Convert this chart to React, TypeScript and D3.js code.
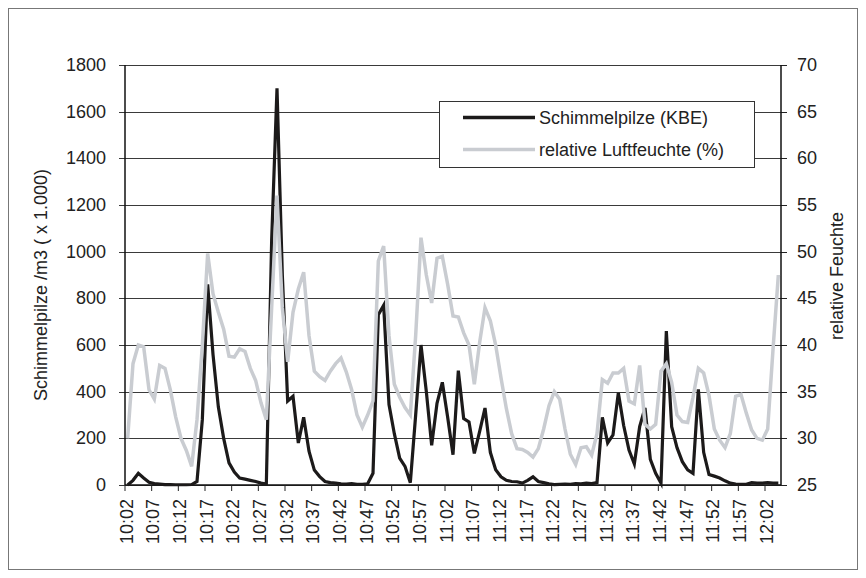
import React from 'react'
import * as d3 from 'd3'

// minutes from 10:02 to 12:04, one sample per minute
const times: string[] = d3.range(123).map((i) => {
  const t = 10 * 60 + 2 + i
  return `${Math.floor(t / 60)}:${String(t % 60).padStart(2, '0')}`
})

const tickLabels = [
  '10:02', '10:07', '10:12', '10:17', '10:22', '10:27', '10:32', '10:37', '10:42',
  '10:47', '10:52', '10:57', '11:02', '11:07', '11:12', '11:17', '11:22', '11:27',
  '11:32', '11:37', '11:42', '11:47', '11:52', '11:57', '12:02',
]

const leftTicks = [0, 200, 400, 600, 800, 1000, 1200, 1400, 1600, 1800]
const rightTicks = [25, 30, 35, 40, 45, 50, 55, 60, 65, 70]

// Schimmelpilze (KBE) /m3 (x 1.000)
const schimmel = [
  0, 20, 50, 30, 12, 6, 4, 2, 2, 1, 1, 1, 2, 15, 280, 860, 560, 335, 200, 95,
  55, 30, 25, 20, 15, 8, 4, 1050, 1700, 900, 360, 380, 180, 290, 145, 64, 36, 15, 10, 8,
  5, 4, 6, 3, 3, 5, 50, 730, 770, 345, 220, 115, 80, 10, 300, 600, 400, 170, 350, 440,
  290, 130, 490, 285, 270, 135, 230, 330, 140, 65, 35, 20, 15, 14, 8, 20, 35, 15, 10, 5,
  2, 3, 4, 3, 6, 5, 8, 6, 10, 290, 180, 215, 395, 255, 150, 90, 250, 330, 110, 50,
  8, 660, 250, 160, 100, 65, 50, 410, 140, 45, 38, 30, 18, 8, 4, 3, 3, 10, 8, 8,
  10, 8, 8,
]

// relative Luftfeuchte (%)
const feuchte = [
  30, 38, 40, 39.8, 35.2, 34.2, 37.8, 37.5, 35.2, 32.3, 30, 28.7, 27, 32, 40, 49.8, 45.5, 43.5, 41.7, 38.8,
  38.7, 39.6, 39.3, 37.5, 36.2, 33.8, 32, 44, 56, 44, 38.2, 43.5, 46, 47.8, 41, 37.2, 36.6, 36.2, 37.2, 38,
  38.6, 37.1, 35.2, 32.5, 31.2, 32.5, 34, 49, 50.6, 41, 35.8, 34.4, 33.3, 32.5, 41, 51.5, 47.5, 44.5, 49.3, 49.5,
  46.5, 43.1, 43, 41.3, 40, 35.8, 40.3, 44, 42.6, 40, 36.5, 33.2, 30.5, 28.9, 28.8, 28.5, 28, 28.9, 31, 33.5,
  35, 34.2, 31, 28.3, 27.2, 29, 29.1, 28.2, 30.5, 36.3, 35.9, 37, 37, 37.5, 34, 33.7, 37.8, 31.5, 31, 31.5,
  37.2, 38, 36, 32.5, 31.8, 31.7, 34.4, 37.5, 37, 34.6, 31, 29.8, 29, 30.5, 34.5, 34.7, 32.7, 30.9, 30, 29.8,
  31, 39.5, 47.5,
]

const font = "'Liberation Sans', Arial, sans-serif"

export default function App() {
  const left = 125
  const right = 781
  const top = 65
  const bottom = 485

  const x = d3.scalePoint<string>().domain(times).range([left, right]).padding(0.5)
  const step = x.step()
  const yL = d3.scaleLinear().domain([0, 1800]).range([bottom, top])
  const yR = d3.scaleLinear().domain([25, 70]).range([bottom, top])

  const lineL = d3
    .line<number>()
    .x((_, i) => x(times[i]) as number)
    .y((d) => yL(d))
  const lineR = d3
    .line<number>()
    .x((_, i) => x(times[i]) as number)
    .y((d) => yR(d))

  return (
    <svg width={866} height={578} style={{ position: 'absolute', left: 0, top: 0 }} fontFamily={font}>
      <rect x={8.5} y={8.5} width={849} height={561} fill="#fff" stroke="#777" />

      {/* gridlines */}
      {leftTicks.map((t) => (
        <line key={t} x1={left - 6} x2={right} y1={Math.round(yL(t)) + 0.5} y2={Math.round(yL(t)) + 0.5} stroke="#3a3a3a" />
      ))}
      {rightTicks.map((t) => (
        <line key={t} x1={right} x2={right + 6} y1={Math.round(yR(t)) + 0.5} y2={Math.round(yR(t)) + 0.5} stroke="#222" />
      ))}

      {/* axes */}
      <line x1={left} x2={left} y1={top} y2={bottom} stroke="#111" strokeWidth={1.5} />
      <line x1={right} x2={right} y1={top} y2={bottom} stroke="#111" strokeWidth={1.5} />
      <line x1={left} x2={right} y1={bottom} y2={bottom} stroke="#111" strokeWidth={1.5} />

      {tickLabels.map((lab) => {
        const tx = (x(lab) as number) - step / 2
        return (
          <g key={lab}>
            <line x1={tx} x2={tx} y1={bottom} y2={bottom + 6} stroke="#222" />
            <text
              transform={`translate(${tx + 1.5},499) rotate(-90)`}
              textAnchor="end"
              dominantBaseline="central"
              fontSize={18}
              fill="#222"
            >
              {lab}
            </text>
          </g>
        )
      })}

      {leftTicks.map((t) => (
        <text key={t} x={106} y={yL(t)} textAnchor="end" dominantBaseline="central" fontSize={18} fill="#222">
          {t}
        </text>
      ))}
      {rightTicks.map((t) => (
        <text key={t} x={797} y={yR(t)} textAnchor="start" dominantBaseline="central" fontSize={18} fill="#222">
          {t}
        </text>
      ))}

      <text transform="translate(41,285) rotate(-90)" textAnchor="middle" dominantBaseline="central" fontSize={18} fill="#222">
        Schimmelpilze /m3 ( x 1.000)
      </text>
      <text transform="translate(837,276) rotate(-90)" textAnchor="middle" dominantBaseline="central" fontSize={18} fill="#222">
        relative Feuchte
      </text>

      {/* series */}
      <path d={lineL(schimmel) ?? ''} fill="none" stroke="#1c1a1a" strokeWidth={3.2} strokeLinejoin="miter" />
      <path d={lineR(feuchte) ?? ''} fill="none" stroke="#c9ccd1" strokeWidth={3.5} strokeLinejoin="miter" />

      {/* legend */}
      <rect x={439.5} y={101.5} width={315} height={66} fill="#fff" stroke="#333" />
      <line x1={463} x2={535} y1={117.5} y2={117.5} stroke="#1c1a1a" strokeWidth={3.5} />
      <line x1={463} x2={535} y1={149.5} y2={149.5} stroke="#c9ccd1" strokeWidth={3.5} />
      <text x={539} y={118} dominantBaseline="central" fontSize={18} fill="#222">
        Schimmelpilze (KBE)
      </text>
      <text x={539} y={150} dominantBaseline="central" fontSize={18} fill="#222">
        relative Luftfeuchte (%)
      </text>
    </svg>
  )
}
